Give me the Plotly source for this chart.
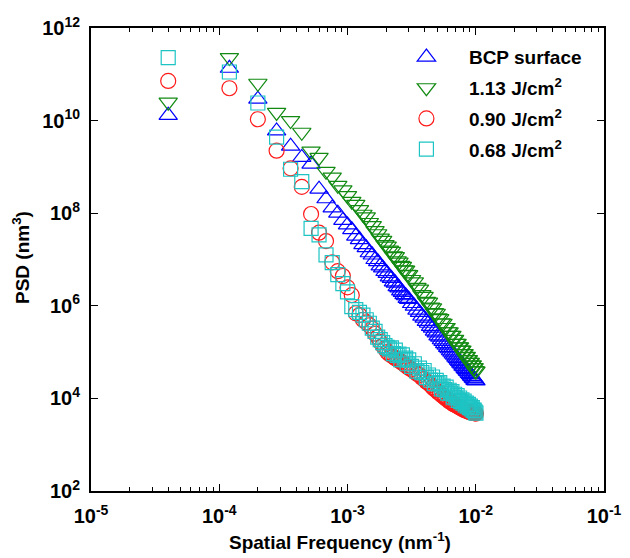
import plotly.graph_objects as go

# Spatial frequency (nm^-1), shared by all four series
freq = [4e-5, 1.2e-4, 2.0e-4, 2.8e-4, 3.6e-4, 4.4e-4, 5.2e-4, 6.0e-4, 6.8e-4, 7.6e-4,
        8.4e-4, 9.2e-4, 1.0e-3, 1.08e-3, 1.16e-3, 1.24e-3, 1.32e-3, 1.40e-3, 1.48e-3, 1.56e-3,
        1.64e-3, 1.72e-3, 1.80e-3, 1.88e-3, 1.96e-3, 2.04e-3, 2.12e-3, 2.20e-3, 2.28e-3, 2.36e-3,
        2.44e-3, 2.52e-3, 2.60e-3, 2.68e-3, 2.76e-3, 2.84e-3, 2.92e-3, 3.00e-3, 3.16e-3, 3.32e-3,
        3.48e-3, 3.64e-3, 3.80e-3, 3.96e-3, 4.12e-3, 4.28e-3, 4.44e-3, 4.60e-3, 4.76e-3, 4.92e-3,
        5.08e-3, 5.24e-3, 5.40e-3, 5.56e-3, 5.72e-3, 5.88e-3, 6.04e-3, 6.20e-3, 6.36e-3, 6.52e-3,
        6.68e-3, 6.84e-3, 7.00e-3, 7.16e-3, 7.32e-3, 7.48e-3, 7.64e-3, 7.80e-3, 7.96e-3, 8.12e-3,
        8.28e-3, 8.44e-3, 8.60e-3, 8.76e-3, 8.92e-3, 9.08e-3, 9.24e-3, 9.40e-3, 9.56e-3, 9.72e-3,
        9.88e-3, 1.004e-2]

psd_bcp = [1.3e10, 1.35e11, 2.9e10, 6.0e9, 2.8e9, 1.6e9, 1.15e9, 3.3e8, 2.05e8, 1.3e8,
           1.0e8, 7.0e7, 5.6e7, 4.4e7, 3.2e7, 2.7e7, 2.1e7, 1.8e7, 1.4e7, 1.25e7,
           1.0e7, 9.0e6, 7.3e6, 6.6e6, 5.5e6, 5.0e6, 4.2e6, 3.9e6, 3.3e6, 3.1e6,
           2.6e6, 2.45e6, 2.1e6, 1.95e6, 1.75e6, 1.65e6, 1.45e6, 1.38e6, 1.12e6, 9.8e5,
           8.1e5, 7.2e5, 6.0e5, 5.4e5, 4.6e5, 4.2e5, 3.6e5, 3.3e5, 2.85e5, 2.6e5,
           2.25e5, 2.1e5, 1.85e5, 1.7e5, 1.52e5, 1.42e5, 1.27e5, 1.18e5, 1.07e5, 1.0e5,
           9.1e4, 8.6e4, 7.8e4, 7.3e4, 6.7e4, 6.3e4, 5.8e4, 5.5e4, 5.0e4, 4.8e4,
           4.4e4, 4.2e4, 3.9e4, 3.75e4, 3.45e4, 3.3e4, 3.05e4, 2.95e4, 2.75e4, 2.65e4,
           2.45e4, 2.4e4]

psd_113 = [2.5e10, 2.3e11, 6.4e10, 1.5e10, 1.0e10, 5.6e9, 2.2e9, 1.6e9, 8.0e8, 6.0e8,
           4.0e8, 3.2e8, 2.4e8, 1.8e8, 1.55e8, 1.2e8, 9.5e7, 8.3e7, 6.3e7, 5.4e7,
           4.2e7, 3.6e7, 2.9e7, 2.6e7, 2.1e7, 1.95e7, 1.6e7, 1.5e7, 1.2e7, 1.15e7,
           9.4e6, 8.8e6, 7.5e6, 7.1e6, 6.0e6, 5.9e6, 4.8e6, 4.7e6, 3.7e6, 3.3e6,
           2.5e6, 2.3e6, 1.75e6, 1.6e6, 1.25e6, 1.2e6, 9.4e5, 9.0e5, 7.1e5, 6.9e5,
           5.5e5, 5.3e5, 4.3e5, 4.2e5, 3.4e5, 3.4e5, 2.75e5, 2.75e5, 2.3e5, 2.3e5,
           1.87e5, 1.88e5, 1.55e5, 1.55e5, 1.3e5, 1.3e5, 1.1e5, 1.1e5, 9.3e4, 9.3e4,
           8.0e4, 8.1e4, 6.9e4, 6.9e4, 6.0e4, 6.0e4, 5.2e4, 5.3e4, 4.6e4, 4.6e4,
           4.0e4, 3.9e4]

psd_090 = [7.2e10, 5.0e10, 1.07e10, 2.24e9, 9.3e8, 3.7e8, 9.6e7, 3.8e7, 2.5e7, 8.7e6,
           5.6e6, 4.4e6, 2.5e6, 1.7e6, 6.9e5, 6.3e5, 5.0e5, 4.4e5, 3.8e5, 3.2e5,
           2.5e5, 2.1e5, 1.66e5, 1.38e5, 1.2e5, 1.0e5, 9.1e4, 8.5e4, 7.9e4, 7.4e4,
           7.1e4, 6.6e4, 6.2e4, 5.9e4, 5.5e4, 5.2e4, 4.9e4, 4.6e4, 4.2e4, 3.8e4,
           3.4e4, 3.2e4, 2.8e4, 2.6e4, 2.3e4, 2.15e4, 1.95e4, 1.75e4, 1.6e4, 1.5e4,
           1.35e4, 1.3e4, 1.18e4, 1.12e4, 1.05e4, 9.8e3, 9.3e3, 8.7e3, 8.5e3, 7.9e3,
           7.6e3, 7.4e3, 7.1e3, 6.9e3, 6.6e3, 6.5e3, 6.2e3, 6.0e3, 5.9e3, 5.6e3,
           5.6e3, 5.4e3, 5.4e3, 5.2e3, 5.1e3, 5.0e3, 5.0e3, 4.9e3, 4.9e3, 4.8e3,
           4.8e3, 4.7e3]

psd_068 = [2.3e11, 1.12e11, 2.4e10, 4.4e9, 8.9e8, 4.8e8, 4.7e7, 3.4e7, 1.26e7, 8.6e6,
           4.7e6, 3.0e6, 2.0e6, 9.6e5, 8.3e5, 7.2e5, 6.3e5, 5.0e5, 4.2e5, 3.3e5,
           2.8e5, 2.1e5, 1.86e5, 1.6e5, 1.38e5, 1.26e5, 1.17e5, 1.23e5, 9.3e4, 1.1e5,
           8.5e4, 9.1e4, 6.9e4, 8.7e4, 6.9e4, 7.4e4, 5.6e4, 6.8e4, 4.9e4, 5.6e4,
           3.9e4, 4.5e4, 3.6e4, 4.0e4, 2.8e4, 3.2e4, 2.5e4, 2.9e4, 2.1e4, 2.45e4,
           2.05e4, 2.2e4, 1.6e4, 1.85e4, 1.55e4, 1.75e4, 1.3e4, 1.5e4, 1.3e4, 1.4e4,
           1.07e4, 1.23e4, 1.02e4, 1.15e4, 9.1e3, 1.02e4, 8.5e3, 9.3e3, 7.9e3, 8.7e3,
           7.2e3, 7.9e3, 6.8e3, 7.4e3, 6.3e3, 6.8e3, 5.9e3, 6.3e3, 5.5e3, 5.6e3,
           5.1e3, 4.8e3]

series_names = ["BCP surface", "1.13 J/cm<sup>2</sup>", "0.90 J/cm<sup>2</sup>", "0.68 J/cm<sup>2</sup>"]
series_values = [psd_bcp, psd_113, psd_090, psd_068]
series_symbols = ["triangle-up-open", "triangle-down-open", "circle-open", "square-open"]
series_colors = ["#0000ff", "#128a12", "#ff1a1a", "#1ec4c4"]
series_sizes = [16, 16, 15, 14]

x_tickvals = [1e-5, 1e-4, 1e-3, 1e-2, 1e-1]
x_ticktext = ["10<sup>-5</sup>", "10<sup>-4</sup>", "10<sup>-3</sup>", "10<sup>-2</sup>", "10<sup>-1</sup>"]
y_tickvals = [1e2, 1e4, 1e6, 1e8, 1e10, 1e12]
y_ticktext = ["10<sup>2</sup>", "10<sup>4</sup>", "10<sup>6</sup>", "10<sup>8</sup>", "10<sup>10</sup>", "10<sup>12</sup>"]

FONT = "Liberation Sans, Arial, Helvetica, sans-serif"
TICKFONT = dict(family=FONT, size=20, color="black", weight="bold")
TEXTFONT = dict(family=FONT, size=19, color="black", weight="bold")

fig = go.Figure()
for i, (name, vals, sym, col, sz) in enumerate(zip(series_names, series_values, series_symbols,
                                                    series_colors, series_sizes)):
    fig.add_trace(go.Scatter(
        x=freq, y=vals, mode="markers", name=name, legendgroup=f"g{i}",
        marker=dict(symbol=sym, size=sz, color=col, line=dict(width=1.2, color=col)),
    ))

L, R, T, B = 91, 26, 28, 67
PW = 630 - L - R
PH = 558 - T - B

fig.update_layout(
    width=630, height=558,
    margin=dict(l=L, r=R, t=T, b=B, autoexpand=False),
    paper_bgcolor="white", plot_bgcolor="white",
    font=dict(family=FONT, size=18, color="black", weight="bold"),
    showlegend=True,
    legend=dict(x=0.571, y=0.978, xanchor="left", yanchor="top",
                bgcolor="rgba(0,0,0,0)", tracegroupgap=3,
                font=TEXTFONT, itemwidth=75),
    xaxis=dict(type="log", range=[-5, -1], showgrid=False, zeroline=False, automargin=False,
               showline=True, linecolor="black", linewidth=2, mirror="ticks",
               ticks="inside", ticklen=7, tickwidth=1, tickcolor="black",
               tickvals=x_tickvals, ticktext=x_ticktext, tickfont=TICKFONT,
               ticklabelstandoff=6,
               minor=dict(ticks="inside", ticklen=4, tickwidth=1, tickcolor="black",
                          dtick="D1", showgrid=False)),
    yaxis=dict(type="log", range=[2, 12], showgrid=False, zeroline=False, automargin=False,
               showline=True, linecolor="black", linewidth=2, mirror="ticks",
               ticks="inside", ticklen=7, tickwidth=1, tickcolor="black",
               tickvals=y_tickvals, ticktext=y_ticktext, tickfont=TICKFONT,
               ticklabelstandoff=5),
    annotations=[
        dict(text="Spatial Frequency (nm<sup>-1</sup>)", xref="paper", yref="paper",
             x=(340 - L) / PW, y=-(541 - (T + PH)) / PH, xanchor="center", yanchor="middle",
             showarrow=False, font=TEXTFONT),
        dict(text="PSD (nm<sup>3</sup>)", xref="paper", yref="paper", textangle=-90,
             x=-(L - 21) / PW, y=1 - (258 - T) / PH, xanchor="center", yanchor="middle",
             showarrow=False, font=TEXTFONT),
    ],
)

fig.write_html("out.html", config={"displayModeBar": False},
               post_script="document.body.style.margin='0';document.body.style.padding='0';")
